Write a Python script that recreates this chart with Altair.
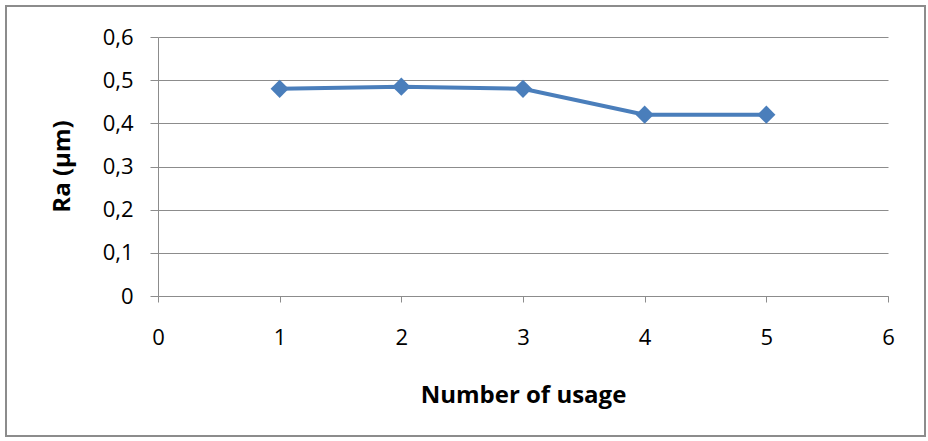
import altair as alt
import pandas as pd

usage = [1, 2, 3, 4, 5]
ra_values = [0.48, 0.485, 0.48, 0.42, 0.42]

df = pd.DataFrame({"usage": usage, "ra": ra_values})

FONT = "Open Sans"
GRID = "#8c8c8c"
BLUE = "#4a7ebb"

x_enc = alt.X(
    "usage:Q",
    scale=alt.Scale(domain=[0, 6], nice=False, zero=False),
    axis=alt.Axis(
        title="Number of usage",
        values=[0, 1, 2, 3, 4, 5, 6],
        grid=False,
        labelFlush=False,
        domainColor=GRID,
        tickColor=GRID,
        tickSize=6,
        labelPadding=25,
        labelFontSize=22,
        labelColor="#000000",
        titleFontSize=24,
        titleFontWeight="bold",
        titleColor="#000000",
        titleBaseline="middle",
        titleY=99,
    ),
)

y_enc = alt.Y(
    "ra:Q",
    scale=alt.Scale(domain=[0, 0.6], nice=False),
    axis=alt.Axis(
        title="Ra (µm)",
        values=[0, 0.1, 0.2, 0.3, 0.4, 0.5, 0.6],
        labelExpr="datum.value == 0 ? '0' : replace(format(datum.value, '.1f'), '.', ',')",
        grid=True,
        labelFlush=False,
        gridColor=GRID,
        domainColor=GRID,
        tickColor=GRID,
        tickSize=8,
        labelPadding=17,
        labelFontSize=22,
        labelColor="#000000",
        titleFontSize=24,
        titleFontWeight="bold",
        titleColor="#000000",
        titleBaseline="middle",
        titleX=-96,
        titleY=129,
    ),
)

line = alt.Chart(df).mark_line(
    color=BLUE,
    strokeWidth=4,
    point=alt.OverlayMarkDef(shape="diamond", size=330, filled=True, color=BLUE, opacity=1),
).encode(x=x_enc, y=y_enc)

frame = alt.Chart(df).mark_rect(
    fill=None, stroke="#8c8c8c", strokeWidth=2
).encode(
    x=alt.value(-152), x2=alt.value(767), y=alt.value(-31), y2=alt.value(399)
)

chart = (
    alt.layer(frame, line)
    .properties(
        width=730,
        height=259,
        autosize=alt.AutoSizeParams(type="none"),
        padding={"left": 158, "top": 37, "right": 40, "bottom": 145},
        background="white",
    )
    .configure_view(stroke=None)
    .configure_axis(labelFont=FONT, titleFont=FONT)
)

chart.save("out.html", embed_options={"renderer": "svg", "actions": False})
